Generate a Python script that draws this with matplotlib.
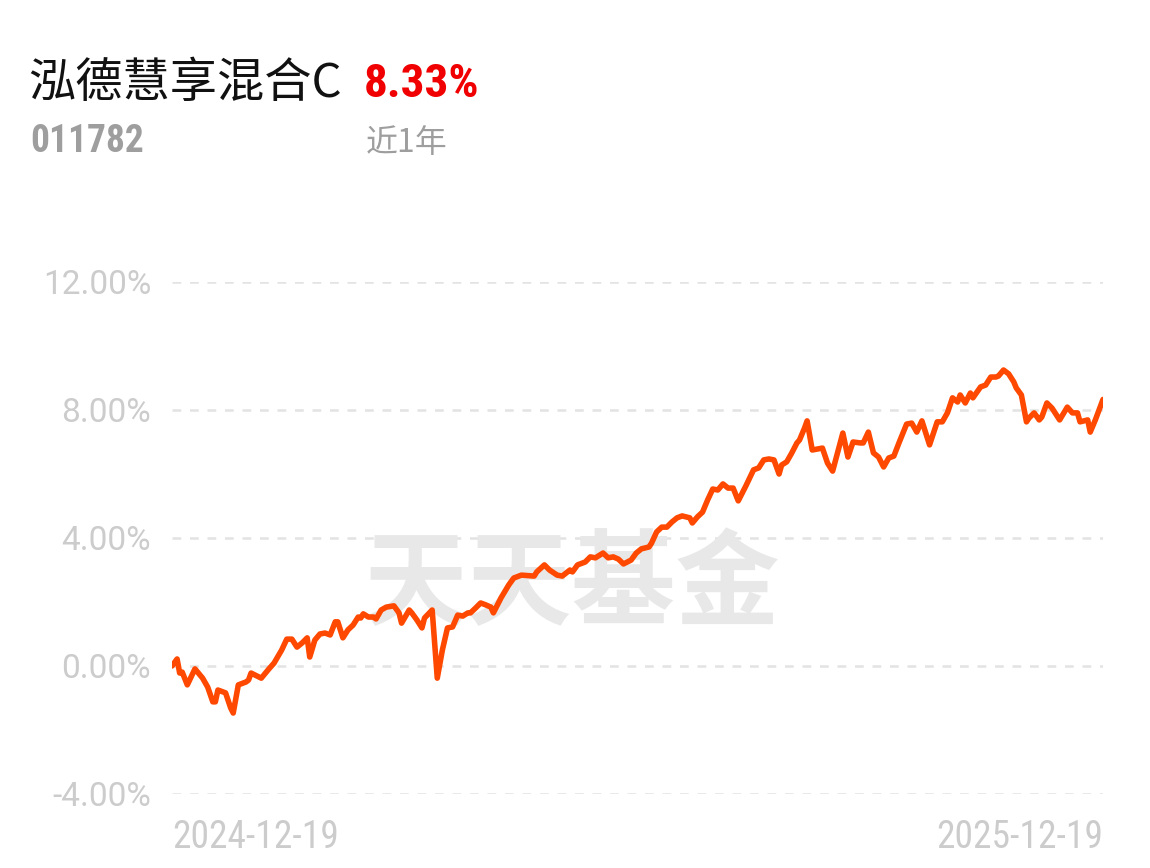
import numpy as np
import pandas as pd
import matplotlib
matplotlib.use("Agg")
import matplotlib.pyplot as plt
from matplotlib import font_manager

# -----------------------------
# Data
# -----------------------------
fund_name = "泓德慧享混合C"
fund_code = "011782"
period_return = "8.33%"
period_label = "近1年"
start_date = "2024-12-19"
end_date = "2025-12-19"

# days since start_date
day_offset = [
    0, 2, 3, 4, 6, 9, 12, 14, 16, 17, 18, 21, 23, 24, 26, 29, 30, 31, 35, 38,
    40, 43, 45, 47, 49, 51, 53, 54, 56, 58, 60, 62, 64, 65, 67, 69, 71, 73, 74, 75,
    77, 79, 80, 82, 84, 87, 89, 90, 93, 94, 96, 98, 99, 102, 104, 106, 108, 110, 112, 114,
    116, 117, 119, 121, 123, 125, 126, 129, 132, 134, 137, 142, 143, 146, 148, 151, 153, 156, 157, 159,
    162, 164, 166, 169, 171, 173, 175, 177, 180, 182, 184, 187, 188, 190, 192, 194, 196, 198, 200, 203,
    204, 206, 208, 210, 212, 214, 216, 218, 220, 222, 225, 228, 230, 232, 234, 236, 238, 239, 241, 243,
    245, 246, 248, 249, 251, 255, 257, 259, 263, 265, 267, 270, 271, 273, 275, 277, 279, 281, 283, 285,
    288, 290, 292, 294, 297, 300, 302, 304, 306, 308, 309, 311, 313, 314, 317, 319, 321, 323, 324, 326,
    328, 330, 331, 333, 335, 336, 338, 340, 341, 343, 345, 348, 351, 353, 355, 356, 359, 360, 362, 365,
]
# cumulative return, %
cum_return = [
    0.00, 0.22, -0.22, -0.19, -0.59, -0.09, -0.38, -0.66, -1.12, -1.12, -0.75, -0.84, -1.31, -1.47, -0.59, -0.50, -0.44, -0.22, -0.38, -0.09,
    0.09, 0.50, 0.84, 0.84, 0.59, 0.72, 0.88, 0.28, 0.81, 1.00, 1.03, 0.97, 1.38, 1.38, 0.88, 1.13, 1.28, 1.53, 1.50, 1.63,
    1.53, 1.53, 1.47, 1.75, 1.84, 1.88, 1.66, 1.34, 1.75, 1.66, 1.44, 1.19, 1.50, 1.75, -0.38, 0.50, 1.19, 1.22, 1.59, 1.56,
    1.66, 1.66, 1.81, 1.97, 1.91, 1.84, 1.66, 2.13, 2.53, 2.75, 2.84, 2.81, 2.94, 3.16, 3.00, 2.84, 2.81, 3.00, 2.94, 3.16,
    3.25, 3.41, 3.38, 3.53, 3.38, 3.41, 3.34, 3.19, 3.31, 3.53, 3.66, 3.72, 3.84, 4.19, 4.34, 4.34, 4.50, 4.63, 4.69, 4.63,
    4.47, 4.66, 4.81, 5.19, 5.53, 5.50, 5.69, 5.56, 5.56, 5.16, 5.63, 6.13, 6.19, 6.44, 6.47, 6.44, 6.00, 6.28, 6.38, 6.66,
    6.97, 7.06, 7.44, 7.66, 6.75, 6.81, 6.34, 6.09, 7.28, 6.53, 7.00, 6.97, 6.97, 7.31, 6.66, 6.53, 6.22, 6.50, 6.56, 6.97,
    7.56, 7.59, 7.31, 7.66, 6.91, 7.63, 7.63, 7.91, 8.38, 8.25, 8.47, 8.22, 8.53, 8.38, 8.72, 8.78, 9.03, 9.03, 9.06, 9.25,
    9.13, 8.88, 8.69, 8.47, 7.63, 7.75, 7.91, 7.69, 7.78, 8.22, 8.06, 7.69, 8.09, 7.91, 7.91, 7.63, 7.69, 7.31, 7.69, 8.33,
]
y_ticks = [-4, 0, 4, 8, 12]

dates = pd.Timestamp(start_date) + pd.to_timedelta(day_offset, unit="D")

# -----------------------------
# Fonts: condensed face if there is one, else Roboto
# -----------------------------
names = {f.name for f in font_manager.fontManager.ttflist}
cond = [n for n in ("Roboto Condensed", "Liberation Sans Narrow", "DejaVu Sans Condensed") if n in names]
narrow = cond[0] if cond else "Roboto"

plt.rcParams["font.family"] = ["Roboto", "Noto Sans CJK SC", "DejaVu Sans"]

W, H = 1150, 868
fig = plt.figure(figsize=(W / 100, H / 100), dpi=100)
fig.patch.set_facecolor("white")

# axes box: x 172..1103, y 282(12%)..794(-4%)
ax = fig.add_axes([172 / W, 1 - 794 / H, (1103 - 172) / W, (794 - 282) / H])
ax.set_facecolor("none")

ax.plot(dates, cum_return, color="#ff4800", lw=4.0, solid_joinstyle="round",
        solid_capstyle="round", zorder=5)

ax.set_ylim(-4, 12)
ax.set_xlim(pd.Timestamp(start_date), pd.Timestamp(end_date))
ax.set_yticks(y_ticks)
ax.set_yticklabels(["{:.2f}%".format(v) for v in y_ticks])
for v in y_ticks:
    ax.axhline(v, color="#e3e3e3", lw=1.8, ls=(0, (3.5, 3.5)), zorder=1)

ax.set_xticks([pd.Timestamp(start_date), pd.Timestamp(end_date)])
ax.set_xticklabels([start_date, end_date])
xl = ax.get_xticklabels()
xl[0].set_ha("left")
xl[1].set_ha("right")
for t in xl:
    t.set_family([narrow, "DejaVu Sans"])
ax.tick_params(axis="x", length=0, pad=18, labelsize=27, labelcolor="#cccccc")
ax.tick_params(axis="y", length=0, pad=15, labelsize=24, labelcolor="#cccccc")
for s in ax.spines.values():
    s.set_visible(False)

# watermark
ax.text((572 - 172) / (1103 - 172), (794 - 586) / (794 - 282), "天天基金",
        transform=ax.transAxes, ha="center", va="center", fontsize=75,
        fontweight="bold", color="#e8e8e8", family=["Noto Sans CJK SC"], zorder=2)

# header
fig.text(28 / W, 1 - 84 / H, fund_name, ha="left", va="center", fontsize=34,
         color="#111111", family=["Noto Sans CJK SC", "DejaVu Sans"])
fig.text(364 / W, 1 - 84 / H, period_return, ha="left", va="center", fontsize=34,
         fontweight="bold", color="#f00000", family=[narrow, "DejaVu Sans"])
fig.text(30 / W, 1 - 141 / H, fund_code, ha="left", va="center", fontsize=27,
         fontweight="bold", color="#9e9e9e", family=[narrow, "DejaVu Sans"])
fig.text(366 / W, 1 - 143 / H, period_label, ha="left", va="center", fontsize=23,
         color="#9e9e9e", family=["Noto Sans CJK SC", "DejaVu Sans"])

fig.savefig("out.png", dpi=100, facecolor="white")
